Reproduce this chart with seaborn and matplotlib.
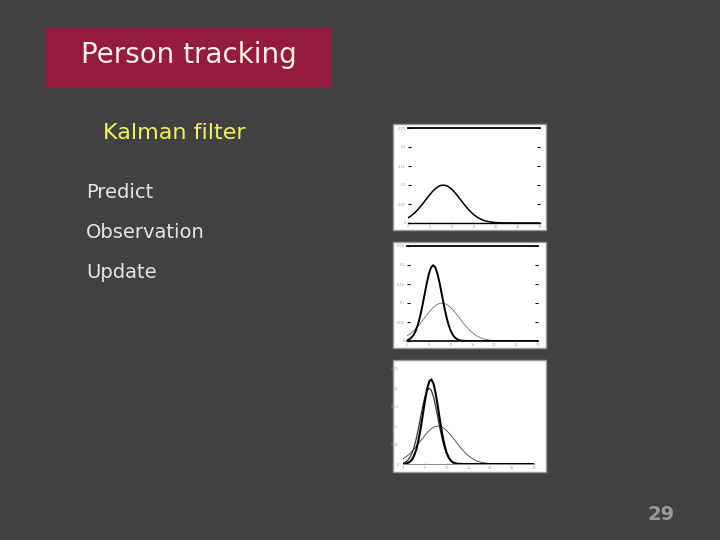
import matplotlib
matplotlib.use("Agg")
import matplotlib.pyplot as plt
from matplotlib.patches import Rectangle
import numpy as np
import pandas as pd
import seaborn as sns

# ---------------- data ----------------
x_vals = [0, 0.5, 1, 1.5, 2, 2.5, 3, 3.5, 4, 4.5, 5, 5.5, 6, 6.5, 7, 7.5, 8, 8.5,
          9, 9.5, 10, 10.5, 11, 11.5, 12, 12.5, 13, 13.5, 14, 14.5, 15, 15.5, 16,
          16.5, 17, 17.5, 18, 18.5, 19, 19.5, 20, 21, 22, 30]

predict = [0.0135, 0.0172, 0.0216, 0.0266, 0.0324, 0.0388, 0.0457, 0.0530, 0.0605,
           0.0680, 0.0753, 0.0820, 0.0880, 0.0930, 0.0967, 0.0990, 0.0997, 0.0990,
           0.0967, 0.0930, 0.0880, 0.0820, 0.0753, 0.0680, 0.0605, 0.0530, 0.0457,
           0.0388, 0.0324, 0.0266, 0.0216, 0.0172, 0.0135, 0.0104, 0.0079, 0.0059,
           0.0044, 0.0032, 0.0023, 0.0016, 0.0011, 0.0005, 0.0002, 0.0]

observation = [0.0022, 0.0045, 0.0088, 0.0159, 0.0270, 0.0431, 0.0648, 0.0913, 0.1210,
               0.1506, 0.1760, 0.1933, 0.1995, 0.1933, 0.1760, 0.1506, 0.1210, 0.0913,
               0.0648, 0.0431, 0.0270, 0.0159, 0.0088, 0.0045, 0.0022, 0.0010, 0.0004,
               0.0002, 0.0001, 0.0, 0.0, 0.0, 0.0, 0.0, 0.0, 0.0, 0.0, 0.0, 0.0, 0.0,
               0.0, 0.0, 0.0, 0.0]

update = [0.0004, 0.0010, 0.0023, 0.0052, 0.0108, 0.0207, 0.0366, 0.0599, 0.0907,
          0.1269, 0.1642, 0.1965, 0.2175, 0.2226, 0.2108, 0.1846, 0.1495, 0.1120,
          0.0776, 0.0497, 0.0294, 0.0161, 0.0082, 0.0038, 0.0017, 0.0007, 0.0002,
          0.0001, 0.0, 0.0, 0.0, 0.0, 0.0, 0.0, 0.0, 0.0, 0.0, 0.0, 0.0, 0.0, 0.0,
          0.0, 0.0, 0.0]

x_ticks = [0, 5, 10, 15, 20, 25, 30]
y_ticks = [0, 0.05, 0.1, 0.15, 0.2, 0.25]
y_tick_labels = ["0", "0.05", "0.1", "0.15", "0.2", "0.25"]

title = "Person tracking"
subtitle = "Kalman filter"
bullets = ["Predict", "Observation", "Update"]
page_number = "29"

df = pd.DataFrame({"x": x_vals, "predict": predict,
                   "observation": observation, "update": update})

# ---------------- figure ----------------
sns.set_style("white")
plt.rcParams["font.family"] = ["DejaVu Sans"]

W, H = 720, 540
BG = "#414141"
fig = plt.figure(figsize=(7.2, 5.4), dpi=100, facecolor=BG)


def fx(px):
    return px / W


def fy(py):
    return 1 - py / H


def rect(x0, y0, x1, y1, fc, ec="none", lw=0):
    fig.add_artist(Rectangle((fx(x0), fy(y1)), fx(x1) - fx(x0), fy(y0) - fy(y1),
                             transform=fig.transFigure, facecolor=fc,
                             edgecolor=ec, linewidth=lw, zorder=-5))


# title box
rect(46, 28, 332, 88, "#951a40")
fig.text(fx(189), fy(55), title, color="#fdf3dc", fontsize=20,
         ha="center", va="center")
fig.text(fx(103), fy(133), subtitle, color="#f2f266", fontsize=16,
         ha="left", va="center")
for txt, yy in zip(bullets, [192, 233, 273]):
    fig.text(fx(86), fy(yy), txt, color="#e6e6e6", fontsize=14,
             ha="left", va="center")
fig.text(fx(661), fy(514), page_number, color="#9a9a9a", fontsize=14,
         fontweight="bold", ha="center", va="center")

panels = [(393, 124, 546, 230), (393, 242, 546, 348), (393, 360, 546, 472)]
boxes = [(408, 128, 540, 223), (407, 246, 538, 341), (403, 369, 534, 464)]

series_sets = [
    [("predict", "#000000", 1.1)],
    [("predict", "#707070", 0.6), ("observation", "#000000", 1.4)],
    [("predict", "#404040", 0.6), ("observation", "#303030", 0.9),
     ("update", "#000000", 1.5)],
]
top_spine = [1.3, 1.3, 0]
bottom_spine = [1.0, 1.2, 0.6]
show_y_marks = [True, True, False]

for panel, box, series, tw, bw, marks in zip(panels, boxes, series_sets,
                                             top_spine, bottom_spine, show_y_marks):
    rect(*panel, "white", ec="#9a9a9a", lw=1.0)
    x0, y0, x1, y1 = box
    ax = fig.add_axes([fx(x0), fy(y1), fx(x1) - fx(x0), fy(y0) - fy(y1)])
    ax.set_zorder(5)
    ax.set_facecolor("white")
    for col, colr, lw in series:
        sns.lineplot(data=df, x="x", y=col, ax=ax, color=colr, linewidth=lw)
    ax.set_xlim(0, 30)
    ax.set_ylim(0, 0.25)
    ax.set_xticks(x_ticks)
    ax.set_xticklabels([str(t) for t in x_ticks])
    ax.set_yticks(y_ticks)
    ax.set_yticklabels(y_tick_labels)
    ax.set_xlabel("")
    ax.set_ylabel("")
    ax.spines["left"].set_visible(False)
    ax.spines["right"].set_visible(False)
    if tw > 0:
        ax.spines["top"].set_linewidth(tw)
        ax.spines["top"].set_color("black")
    else:
        ax.spines["top"].set_visible(False)
    ax.spines["bottom"].set_linewidth(bw)
    ax.spines["bottom"].set_color("black" if tw > 0 else "#777777")
    ax.tick_params(axis="both", labelsize=2.5, colors="#999999", length=2,
                   width=0.8, direction="in", pad=1.5)
    if marks:
        ax.tick_params(axis="y", left=True, right=True, color="black")
    else:
        ax.tick_params(axis="y", left=False, right=False, pad=3)
    ax.tick_params(axis="x", bottom=True, color="#999999", length=1)

fig.savefig("out.png", dpi=100, facecolor=BG)
